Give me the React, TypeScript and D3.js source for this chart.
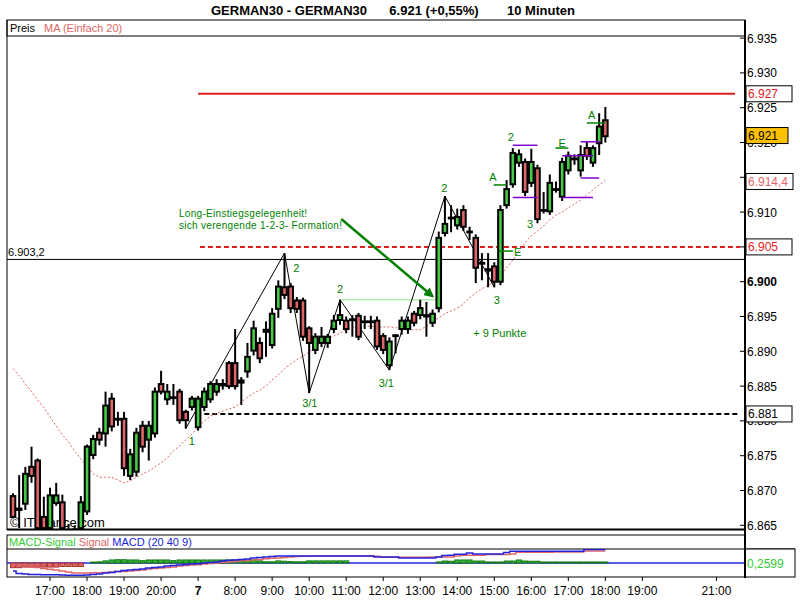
import * as d3 from 'd3'

// OHLC per 10-minute candle: [open, high, low, close]
const candles: [number, number, number, number][] = [
  [6869.2, 6869.6, 6866.0, 6866.2], [6867.2, 6872.2, 6864.6, 6867.4], [6868.1, 6873.4, 6867.2, 6872.4],
  [6873.4, 6876.3, 6871.1, 6872.1], [6874.3, 6874.6, 6864.2, 6864.6], [6866.2, 6869.1, 6864.2, 6864.6],
  [6864.6, 6870.4, 6864.2, 6869.3], [6868.2, 6871.1, 6867.8, 6869.3], [6868.3, 6869.4, 6864.0, 6864.6],
  [6864.3, 6865.2, 6863.0, 6863.8], [6863.6, 6865.0, 6863.0, 6864.4], [6864.6, 6869.2, 6864.2, 6868.3],
  [6867.0, 6876.6, 6866.5, 6876.3], [6875.1, 6878.0, 6874.5, 6877.4], [6878.3, 6879.0, 6876.5, 6877.3],
  [6878.2, 6884.2, 6876.3, 6882.2], [6883.2, 6884.0, 6878.5, 6879.2], [6880.3, 6881.3, 6879.3, 6880.2],
  [6880.3, 6881.3, 6872.1, 6873.2], [6872.1, 6876.0, 6871.5, 6875.2], [6872.7, 6879.0, 6872.0, 6878.3],
  [6879.3, 6880.0, 6875.5, 6876.3], [6877.3, 6880.0, 6874.3, 6879.3], [6878.2, 6884.8, 6877.6, 6884.2],
  [6885.3, 6887.2, 6883.8, 6884.2], [6883.1, 6885.3, 6882.3, 6884.2], [6883.3, 6885.3, 6882.3, 6883.4],
  [6884.2, 6884.6, 6879.6, 6880.1], [6881.3, 6881.6, 6878.9, 6880.1], [6882.0, 6883.6, 6881.5, 6883.2],
  [6879.1, 6883.6, 6878.6, 6883.2], [6882.0, 6884.8, 6881.4, 6884.2], [6883.1, 6885.7, 6882.6, 6885.3],
  [6884.2, 6886.0, 6883.6, 6885.3], [6885.1, 6886.0, 6884.5, 6885.3], [6888.3, 6888.6, 6884.6, 6885.0],
  [6888.3, 6893.2, 6884.5, 6885.0], [6885.5, 6886.3, 6882.3, 6885.8], [6887.1, 6891.2, 6886.2, 6889.2],
  [6890.1, 6894.4, 6889.4, 6893.3], [6891.2, 6892.0, 6888.3, 6889.0], [6892.8, 6894.3, 6889.2, 6893.1],
  [6890.9, 6896.2, 6890.4, 6895.4], [6896.1, 6900.2, 6894.8, 6899.3], [6899.2, 6904.1, 6897.5, 6898.1],
  [6899.3, 6899.8, 6895.5, 6896.2], [6897.3, 6897.8, 6895.5, 6896.1], [6897.3, 6897.7, 6891.5, 6892.1],
  [6893.3, 6893.6, 6884.0, 6891.2], [6890.2, 6892.6, 6889.6, 6892.1], [6891.2, 6893.5, 6890.6, 6892.1],
  [6891.2, 6892.5, 6890.5, 6892.1], [6893.2, 6895.2, 6892.6, 6894.4], [6894.5, 6897.4, 6893.8, 6895.2],
  [6894.4, 6895.0, 6892.6, 6893.2], [6894.5, 6895.2, 6892.1, 6894.6], [6895.1, 6895.5, 6891.6, 6892.1],
  [6894.2, 6895.1, 6893.2, 6894.3], [6894.3, 6895.1, 6893.2, 6894.2], [6894.4, 6895.0, 6890.2, 6890.7],
  [6892.2, 6892.6, 6889.6, 6890.2], [6888.0, 6892.0, 6887.3, 6891.4], [6892.2, 6892.4, 6889.7, 6892.3],
  [6893.2, 6895.0, 6892.4, 6894.4], [6893.2, 6895.0, 6892.5, 6894.4], [6895.4, 6895.8, 6893.6, 6894.1],
  [6895.2, 6897.4, 6894.6, 6896.2], [6895.0, 6897.1, 6892.1, 6895.2], [6894.1, 6896.0, 6893.5, 6895.4],
  [6896.2, 6907.2, 6895.6, 6906.3], [6907.0, 6912.3, 6906.5, 6908.3], [6909.1, 6911.0, 6907.1, 6909.2],
  [6908.1, 6910.5, 6907.5, 6909.3], [6910.3, 6911.0, 6907.3, 6907.9], [6907.1, 6907.9, 6906.0, 6907.2],
  [6906.3, 6906.8, 6899.8, 6902.0], [6902.7, 6904.1, 6900.2, 6902.6], [6901.8, 6904.1, 6899.2, 6901.6],
  [6902.2, 6902.8, 6899.2, 6900.0], [6900.0, 6911.0, 6899.5, 6910.3], [6911.0, 6914.6, 6910.5, 6913.3],
  [6914.0, 6919.2, 6913.5, 6918.5], [6917.1, 6919.0, 6916.5, 6918.3], [6917.2, 6917.7, 6912.3, 6912.9],
  [6914.2, 6919.1, 6913.6, 6917.2], [6916.3, 6916.8, 6908.4, 6909.0], [6910.3, 6912.9, 6909.8, 6910.3],
  [6910.1, 6915.4, 6909.6, 6914.2], [6913.2, 6914.4, 6912.8, 6913.3], [6912.2, 6917.8, 6911.6, 6917.2],
  [6916.0, 6918.7, 6915.4, 6918.1], [6917.6, 6918.3, 6916.8, 6917.7], [6916.0, 6919.6, 6915.1, 6918.2],
  [6919.2, 6920.1, 6917.5, 6918.1], [6917.1, 6919.6, 6916.5, 6919.2], [6919.9, 6924.2, 6918.2, 6922.3],
  [6923.2, 6925.1, 6920.0, 6920.9],
]

// MA (Einfach 20)
const ma20 = [
  6887.5, 6886.5, 6885.3, 6884.2, 6883.0, 6881.9, 6880.6, 6879.3, 6878.0, 6877.0, 6875.7, 6874.5,
  6873.4, 6872.4, 6871.9, 6871.9, 6871.9, 6871.5, 6871.1, 6871.4, 6871.9, 6872.4, 6872.8, 6873.4,
  6874.0, 6874.7, 6875.7, 6876.4, 6877.3, 6878.1, 6879.1, 6880.0, 6880.7, 6881.1, 6881.4, 6881.7,
  6882.0, 6882.7, 6883.4, 6884.0, 6884.4, 6885.0, 6885.9, 6886.6, 6887.5, 6888.2, 6888.8, 6889.3,
  6889.9, 6890.6, 6891.2, 6891.8, 6892.2, 6892.6, 6893.1, 6893.4, 6893.6, 6893.6, 6893.6, 6893.5,
  6893.5, 6893.5, 6893.4, 6893.2, 6893.1, 6893.1, 6893.1, 6893.6, 6894.2, 6894.8, 6895.4, 6895.8,
  6896.2, 6896.8, 6897.7, 6898.4, 6899.0, 6899.5, 6900.0, 6901.0, 6902.0, 6903.1, 6904.4, 6905.6,
  6906.6, 6907.3, 6908.0, 6908.9, 6909.6, 6910.0, 6910.6, 6911.2, 6911.7, 6912.5, 6913.2, 6913.9,
  6914.6,
]

const macdLine = [
  -0.69, -0.91, -0.95, -0.99, -0.99, -1.01, -1.01, -1.01, -1.03, -1.06, -1.06, -1.06, -1.03, -0.99,
  -0.95, -0.86, -0.82, -0.73, -0.65, -0.6, -0.56, -0.52, -0.43, -0.39, -0.34, -0.26, -0.22, -0.17,
  -0.13, -0.09, -0.06, 0, 0.04, 0.09, 0.17, 0.23, 0.26, 0.3, 0.34, 0.43, 0.47, 0.52, 0.56, 0.6, 0.6,
  0.6, 0.6, 0.6, 0.6, 0.6, 0.6, 0.6, 0.6, 0.6, 0.6, 0.6, 0.6, 0.6, 0.6, 0.52, 0.52, 0.52, 0.52, 0.43,
  0.43, 0.43, 0.43, 0.43, 0.43, 0.52, 0.65, 0.66, 0.75, 0.75, 0.86, 0.78, 0.78, 0.78, 0.78, 0.78,
  0.91, 1.01, 1.01, 1.01, 1.01, 1.01, 1.01, 1.01, 1.01, 1.01, 1.01, 1.01, 1.01, 1.15, 1.15, 1.15, 1.15,
]

const signalLine = [
  -0.15, -0.15, -0.22, -0.34, -0.39, -0.47, -0.54, -0.6, -0.69, -0.78, -0.86, -0.86, -0.86, -0.84,
  -0.84, -0.82, -0.78, -0.73, -0.72, -0.69, -0.65, -0.6, -0.52, -0.47, -0.43, -0.39, -0.34, -0.26,
  -0.22, -0.17, -0.15, -0.09, -0.04, 0, 0.04, 0.09, 0.13, 0.17, 0.22, 0.26, 0.3, 0.37, 0.41, 0.43,
  0.47, 0.52, 0.56, 0.58, 0.58, 0.6, 0.6, 0.6, 0.6, 0.6, 0.6, 0.6, 0.6, 0.6, 0.6, 0.58, 0.49, 0.49,
  0.49, 0.49, 0.49, 0.49, 0.49, 0.49, 0.52, 0.52, 0.52, 0.52, 0.6, 0.66, 0.66, 0.66, 0.66, 0.73, 0.73,
  0.73, 0.73, 0.78, 0.92, 0.92, 0.92, 0.92, 0.92, 0.92, 0.95, 0.95, 0.95, 0.95, 0.95, 1.03, 1.03,
  1.03, 1.03,
]

// MACD-Signal histogram
const histogram = [
  -0.4, -0.4, -0.35, -0.35, -0.35, -0.35, -0.35, -0.35, -0.3, -0.3, -0.3, -0.3, 0, 0.08, 0.1, 0.18,
  0.26, 0.28, 0.28, 0.26, 0.26, 0.2, 0.26, 0.26, 0.26, 0.26, 0.2, 0.26, 0.26, 0.26, 0.26, 0.26, 0.26,
  0.26, 0.26, 0.26, 0.26, 0.26, 0.26, 0.26, 0.18, 0.1, 0.1, 0.18, 0.15, 0.12, 0.1, 0.1, 0.18, 0.18,
  0.18, 0.18, 0.18, 0.18, 0.18, 0, 0, 0, 0, 0, 0, 0, 0, 0, 0, 0, 0, 0, 0, 0.09, 0.17, 0.15, 0.26,
  0.26, 0.26, 0.17, 0.17, 0.09, 0.09, 0.09, 0.17, 0.17, 0.26, 0.17, 0.15, 0.15, 0.09, 0.09, 0.09,
  0.09, 0.09, 0.09, 0.09, 0.09, 0.09, 0.09, 0.09,
]

const timeTicks: [number, string][] = [
  [6, '17:00'], [12, '18:00'], [18, '19:00'], [24, '20:00'], [30, '7'], [36, '8:00'], [42, '9:00'],
  [48, '10:00'], [54, '11:00'], [60, '12:00'], [66, '13:00'], [72, '14:00'], [78, '15:00'],
  [84, '16:00'], [90, '17:00'], [96, '18:00'], [102, '19:00'], [114, '21:00'],
]

// price ticks; 6.905 and 6.915 sit fully under value boxes, so only their tick marks show
const priceTicks = [6865, 6870, 6875, 6880, 6885, 6890, 6895, 6900, 6905, 6910, 6915, 6920, 6925, 6930, 6935]
const hiddenTickLabels = [6905, 6915]

// 1-2-3 zigzag pivots [candle index, price]
const zigzag: [number, number][] = [
  [28, 6878.9], [44, 6904.1], [48, 6884.0], [53, 6897.4], [61, 6887.3], [70, 6912.3], [78, 6899.2],
]

const pivotLabels: [number, number, string][] = [
  [29, 6877.1, '1'], [45.9, 6902.0, '2'], [48.1, 6882.6, '3/1'], [53, 6899.0, '2'], [60.5, 6885.4, '3/1'],
  [69.9, 6913.5, '2'], [78.4, 6897.4, '3'], [77.8, 6915.0, 'A'], [80.7, 6920.8, '2'], [89, 6919.9, 'E'],
  [83.8, 6908.3, '3'], [81.8, 6904.3, 'E'], [93.8, 6924.0, 'A'], [78.9, 6892.6, '+ 9 Punkte'],
]

// purple range lines [from index, to index, price]
const purpleLines: [number, number, number][] = [
  [81, 85, 6919.6], [81, 85, 6912.1], [89, 94, 6918.1], [89, 94, 6912.1], [92, 95.2, 6920.1], [92, 95, 6914.9],
]

// short dark green entry marks [from index, to index, price]
const entryMarks: [number, number, number][] = [
  [77.9, 80, 6913.9], [78.8, 81, 6904.4], [87.9, 90, 6919.2], [93, 96, 6922.8],
]

const GREEN = '#44cc44'
const RED = '#e06666'
const FONT = '"Liberation Sans", Arial, sans-serif'

export default function App() {
  const x = d3.scaleLinear().domain([0, 114]).range([13, 716.4])
  const y = d3.scaleLinear().domain([6865, 6935]).range([525.3, 38.1])
  const yM = d3.scaleLinear().domain([-1.2, 1.2]).range([577, 549])

  const maPath = d3
    .line<number>()
    .x((_, i) => x(i))
    .y((d) => y(d))(ma20) as string
  const zigPath = d3
    .line<[number, number]>()
    .x((d) => x(d[0]))
    .y((d) => y(d[1]))(zigzag) as string
  const stepLine = d3
    .line<number>()
    .x((_, i) => x(i))
    .y((d) => yM(d))
    .curve(d3.curveStep)

  const rightBox = (price: number, text: string, color: string, fill = '#fff', w = 46) => (
    <g key={text}>
      <rect x={746} y={y(price) - 8} width={w} height={16} fill={fill} stroke="#000" strokeWidth={1} />
      <text x={748} y={y(price) + 4.5} fontSize={12} fill={color} fontFamily={FONT}>
        {text}
      </text>
    </g>
  )

  return (
    <svg width={800} height={600} style={{ position: 'absolute', left: 0, top: 0, background: '#fff' }}>
      <defs>
        <clipPath id="plot">
          <rect x={7} y={36} width={738} height={493} />
        </clipPath>
        <clipPath id="macd">
          <rect x={7} y={549} width={738} height={28} />
        </clipPath>
        <marker id="arr" viewBox="0 0 10 10" refX={8} refY={5} markerWidth={4} markerHeight={4} orient="auto">
          <path d="M0,0 L10,5 L0,10 z" fill="#008000" />
        </marker>
      </defs>

      {/* title */}
      <g fontSize={13} fontWeight="bold" fontFamily={FONT} fill="#000">
        <text x={289} y={15} textAnchor="middle">GERMAN30 - GERMAN30</text>
        <text x={434} y={15} textAnchor="middle">6.921 (+0,55%)</text>
        <text x={541} y={15} textAnchor="middle">10 Minuten</text>
      </g>

      {/* frame */}
      <rect x={7} y={20} width={738} height={16} fill="#fff" stroke="#000" />
      <text x={10} y={32} fontSize={11} fontFamily={FONT} fill="#000">Preis</text>
      <text x={44} y={32} fontSize={11} fontFamily={FONT} fill={RED}>MA (Einfach 20)</text>
      <line x1={7} x2={7} y1={20} y2={530} stroke="#000" />
      <line x1={7} x2={746} y1={529.5} y2={529.5} stroke="#000" strokeWidth={2} />

      {/* price axis */}
      {priceTicks.map((p) => (
        <g key={p}>
          <line x1={740} x2={745} y1={y(p)} y2={y(p)} stroke="#000" />
          {hiddenTickLabels.includes(p) ? null : (
            <text
              x={747}
              y={y(p) + 4.5}
              fontSize={12}
              fontFamily={FONT}
              fontWeight={p === 6900 ? 'bold' : 'normal'}
              fill="#000"
            >
              {d3.format('.3f')(p / 1000)}
            </text>
          )}
        </g>
      ))}

      <text x={10} y={527} fontSize={13} fontFamily={FONT} fill="#000">© ITfinance.com</text>

      <g clipPath="url(#plot)">
        {/* level lines */}
        <line x1={7} x2={745} y1={y(6903.2)} y2={y(6903.2)} stroke="#000" />
        <line x1={x(30)} x2={735} y1={y(6927)} y2={y(6927)} stroke="#e02020" strokeWidth={2} />
        <line x1={x(30.3)} x2={740} y1={y(6905)} y2={y(6905)} stroke="#e02020" strokeWidth={2} strokeDasharray="5,3" />
        <line x1={x(31)} x2={740} y1={y(6881)} y2={y(6881)} stroke="#000" strokeWidth={2} strokeDasharray="5,3" />
        <line x1={x(53)} x2={x(69.3)} y1={y(6897.4)} y2={y(6897.4)} stroke="#88e888" strokeWidth={1} />

        <path d={maPath} fill="none" stroke={RED} strokeWidth={1} strokeDasharray="2,2" />
        <path d={zigPath} fill="none" stroke="#000" strokeWidth={1} />

        {/* candles */}
        {candles.map(([o, h, l, c], i) => {
          const cx = x(i)
          const top = y(Math.max(o, c))
          const bot = y(Math.min(o, c))
          return (
            <g key={i}>
              <line x1={cx} x2={cx} y1={y(h)} y2={y(l)} stroke="#000" strokeWidth={2} />
              <rect
                x={cx - 2.3}
                y={top}
                width={4.6}
                height={Math.max(bot - top, 0.8)}
                fill={c >= o ? GREEN : RED}
                stroke="#000"
                strokeWidth={2}
              />
            </g>
          )
        })}

        {purpleLines.map(([a, b, p], i) => (
          <line key={'p' + i} x1={x(a)} x2={x(b)} y1={y(p)} y2={y(p)} stroke="#8000d0" strokeWidth={1.5} />
        ))}
        {entryMarks.map(([a, b, p], i) => (
          <line key={'e' + i} x1={x(a)} x2={x(b)} y1={y(p)} y2={y(p)} stroke="#008000" strokeWidth={1.5} />
        ))}

        {/* annotation arrow */}
        <line
          x1={x(53.2)}
          y1={y(6909)}
          x2={x(68)}
          y2={y(6897.9)}
          stroke="#008000"
          strokeWidth={2.5}
          markerEnd="url(#arr)"
        />
        <text x={179} y={217} fontSize={10} fontFamily={FONT} fill="#008000" letterSpacing={0.3}>
          Long-Einstiegsgelegenheit!
        </text>
        <text x={179} y={229} fontSize={10} fontFamily={FONT} fill="#008000" letterSpacing={0.3}>
          sich verengende 1-2-3- Formation!
        </text>

        {pivotLabels.map(([i, p, t], k) => (
          <text
            key={'l' + k}
            x={x(i)}
            y={y(p) + 4}
            textAnchor="middle"
            fontSize={11}
            fontFamily={FONT}
            fill="#008000"
          >
            {t}
          </text>
        ))}
      </g>

      <text x={8} y={256} fontSize={11} fontFamily={FONT} fill="#000">6.903,2</text>

      {rightBox(6927, '6.927', '#e02020')}
      {rightBox(6921, '6.921', '#000', '#ffc000', 42)}
      {rightBox(6914.4, '6.914,4', RED, '#fff', 47)}
      {rightBox(6905, '6.905', '#e02020')}
      {rightBox(6881, '6.881', '#000')}

      {/* MACD panel */}
      <rect x={7} y={535} width={738} height={42} fill="#fff" stroke="#000" />
      <line x1={7} x2={795} y1={549} y2={549} stroke="#000" />
      <text x={9} y={546} fontSize={11} fontFamily={FONT}>
        <tspan fill="#33cc33">MACD-Signal </tspan>
        <tspan fill={RED}>Signal </tspan>
        <tspan fill="#2222dd">MACD (20 40 9)</tspan>
      </text>
      <g clipPath="url(#macd)">
        <line x1={7} x2={745} y1={yM(0)} y2={yM(0)} stroke="#2222dd" strokeWidth={1.5} />
        {histogram.map((v, i) =>
          v === 0 ? null : (
            <rect
              key={'h' + i}
              x={x(i) - 2.5}
              y={v > 0 ? yM(v) : yM(0)}
              width={5}
              height={Math.abs(yM(v) - yM(0))}
              fill={v > 0 ? '#33bb33' : RED}
              stroke={v > 0 ? '#117711' : '#aa3333'}
              strokeWidth={1}
            />
          )
        )}
        <path d={stepLine(signalLine) as string} fill="none" stroke={RED} strokeWidth={1.5} />
        <path d={stepLine(macdLine) as string} fill="none" stroke="#2222dd" strokeWidth={1.5} />
      </g>
      <rect x={745} y={549} width={50} height={28} fill="#fff" stroke="#000" />
      <text x={747} y={568} fontSize={12} fontFamily={FONT} fill="#33cc33">0,2599</text>

      <line x1={745} x2={745} y1={20} y2={578} stroke="#000" strokeWidth={2} />

      {/* time axis */}
      {timeTicks.map(([i, t]) => (
        <g key={t + i}>
          <line x1={x(i)} x2={x(i)} y1={577} y2={581} stroke="#000" />
          <text
            x={x(i)}
            y={595}
            textAnchor="middle"
            fontSize={12}
            fontFamily={FONT}
            fontWeight={t === '7' ? 'bold' : 'normal'}
            fill="#000"
          >
            {t}
          </text>
        </g>
      ))}
    </svg>
  )
}
